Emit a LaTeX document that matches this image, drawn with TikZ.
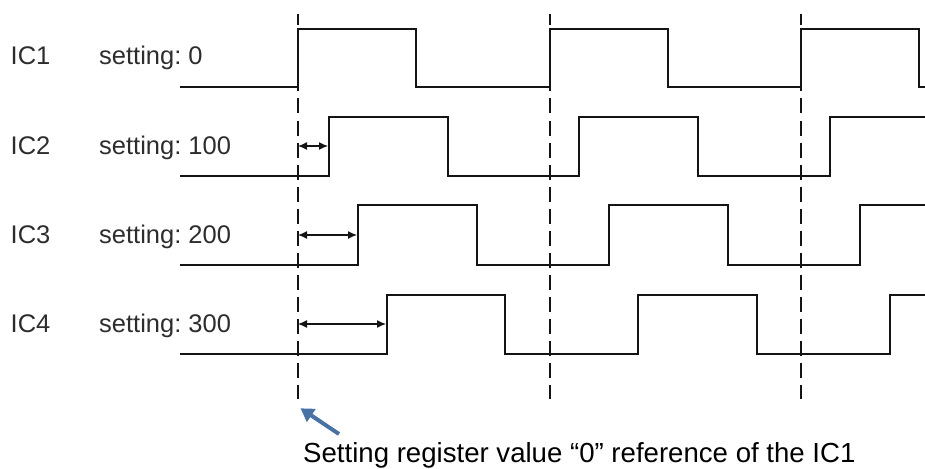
\documentclass[tikz,border=0pt]{standalone}
\usepackage{fontspec}
\setmainfont{Liberation Sans}
\usetikzlibrary{arrows.meta}
\definecolor{sig}{RGB}{20,20,20}
\definecolor{lbl}{RGB}{45,45,45}
\definecolor{pointer}{RGB}{70,114,166}
\tikzset{
  signal/.style={draw=sig, line width=2.1pt, line join=miter},
  refline/.style={draw=sig, line width=1.5pt, dash pattern=on 15pt off 7pt, dash phase=3.5pt},
  delay/.style={draw=sig, line width=1.2pt, {Latex[length=9pt,width=8pt]}-{Latex[length=9pt,width=8pt]}},
  chip/.style={anchor=base west, inner sep=0pt, text=lbl, font=\fontsize{25.5}{28}\selectfont},
  note/.style={anchor=base west, inner sep=0pt, text=black, font=\fontsize{27.6}{30}\selectfont},
  pointerarrow/.style={draw=pointer, line width=4pt, -{Triangle[length=13pt,width=15pt]}}
}
\begin{document}
\begin{tikzpicture}[x=1pt,y=-1pt]
\useasboundingbox (0,0) rectangle (925,468);
% labels
\node[chip] (ic1) at (10.5,64.5) {IC1};
\node[chip] (s1) at (99,64.5) {setting:\ 0};
\node[chip] (ic2) at (10.5,154) {IC2};
\node[chip] (s2) at (99,154) {setting:\ 100};
\node[chip] (ic3) at (10.5,243) {IC3};
\node[chip] (s3) at (99,243) {setting:\ 200};
\node[chip] (ic4) at (10.5,332.5) {IC4};
\node[chip] (s4) at (99,332.5) {setting:\ 300};
% reference dashed lines
\coordinate (r1t) at (298,14); \coordinate (r1b) at (298,399);
\coordinate (r2t) at (550,14); \coordinate (r2b) at (550,399);
\coordinate (r3t) at (801,14); \coordinate (r3b) at (801,399);
\draw[refline] (r1t) -- (r1b);
\draw[refline] (r2t) -- (r2b);
\draw[refline] (r3t) -- (r3b);
% signals
\draw[signal] (180,87) -- (298,87) -- (298,29) -- (416,29) -- (416,87) -- (550,87) -- (550,29) -- (668,29) -- (668,87) -- (801,87) -- (801,29) -- (919,29) -- (919,87) -- (925,87);
\draw[signal] (180,176) -- (329,176) -- (329,117) -- (448,117) -- (448,176) -- (579,176) -- (579,117) -- (698,117) -- (698,176) -- (830,176) -- (830,117) -- (925,117);
\draw[signal] (180,265) -- (358,265) -- (358,205) -- (477,205) -- (477,265) -- (609,265) -- (609,205) -- (728,205) -- (728,265) -- (860,265) -- (860,205) -- (925,205);
\draw[signal] (180,354) -- (387,354) -- (387,295) -- (505,295) -- (505,354) -- (638,354) -- (638,295) -- (757,295) -- (757,354) -- (890,354) -- (890,295) -- (925,295);
% delay arrows
\coordinate (d2a) at (298,146); \coordinate (d2b) at (328,146);
\coordinate (d3a) at (298,235); \coordinate (d3b) at (357,235);
\coordinate (d4a) at (298,324); \coordinate (d4b) at (386,324);
\draw[delay] (d2a) -- (d2b);
\draw[delay] (d3a) -- (d3b);
\draw[delay] (d4a) -- (d4b);
% note
\node[note] (note) at (303,462.5) {Setting register value “0” reference of the IC1};
\coordinate (ptail) at (339,434);
\coordinate (ptip) at (300.5,408.3);
\draw[pointerarrow] (ptail) -- (ptip);
\end{tikzpicture}
\end{document}
